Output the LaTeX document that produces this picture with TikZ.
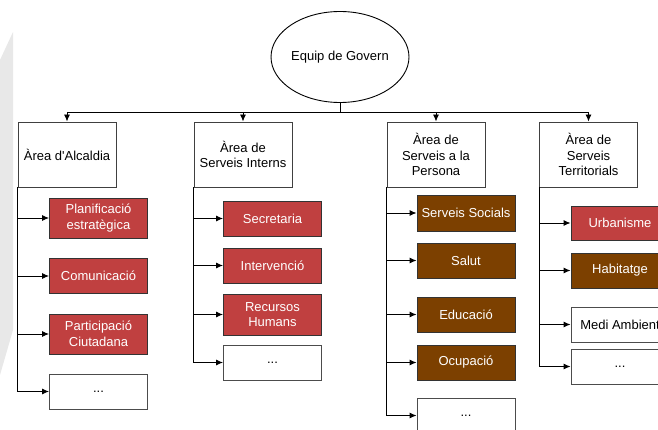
\documentclass[tikz,border=0pt]{standalone}
\usepackage{fontspec}
\setmainfont{Liberation Sans}
\usetikzlibrary{shapes,arrows.meta}
\definecolor{unitred}{RGB}{192,64,64}
\definecolor{unitbrown}{RGB}{124,64,0}
\definecolor{bandgray}{RGB}{232,232,232}
\tikzset{
  area/.style ={draw=black!75, fill=white, align=center, minimum width=98pt, minimum height=65pt, inner sep=2pt},
  redunit/.style ={draw=black!80, fill=unitred, text=white, align=center, minimum width=98pt, minimum height=35pt, inner sep=2pt},
  brownunit/.style ={draw=black!80, fill=unitbrown, text=white, align=center, minimum width=98pt, minimum height=35pt, inner sep=2pt},
  blankunit/.style ={draw=black!70, fill=white, align=center, minimum width=98pt, minimum height=35pt, inner sep=2pt},
  line/.style ={draw, line width=0.9pt, -{Latex[length=7pt,width=6pt]}}
}

\begin{document}
\begin{tikzpicture}[x=1pt,y=-1pt,line width=0.9pt,font=\fontsize{13}{15.5}\selectfont]
	\useasboundingbox (0,0) rectangle (658,430);
	\fill[bandgray] (0,60) -- (13,32) -- (13,330) -- (0,375) -- cycle;

	% govern and areas
	\node[ellipse, draw, minimum width=127pt, minimum height=91pt, inner sep=0pt] (govern) at (340,57) {Equip de Govern};
	\node[area] (alcaldia) at (67,154.5) {Àrea d\textquotesingle Alcaldia};
	\node[area] (interns) at (243,154.5) {Àrea de\\Serveis Interns};
	\node[area] (persona) at (436,154.5) {Àrea de\\Serveis a la\\Persona};
	\node[area] (territori) at (588.5,154.5) {Àrea de\\Serveis\\Territorials};
	\coordinate (bus) at (340,112);
	\draw (govern) -- (bus);
	\draw[line] (bus) -| (alcaldia);
	\draw[line] (bus) -| (interns);
	\draw[line] (bus) -| (persona);
	\draw[line] (bus) -| (territori);

	% alcaldia
	\node[redunit, minimum height=40pt] (planif) at (98.5,218) {Planificació\\estratègica};
	\node[redunit] (comunic) at (98.5,276) {Comunicació};
	\node[redunit, minimum height=40pt] (particip) at (98.5,334) {Participació\\Ciutadana};
	\node[blankunit] (alcaldiaetc) at (98.5,391.5) {...};
	\draw[line] (alcaldia.south west) |- (planif);
	\draw[line] (alcaldia.south west) |- (comunic);
	\draw[line] (alcaldia.south west) |- (particip);
	\draw[line] (alcaldia.south west) |- (alcaldiaetc);

	% serveis interns
	\node[redunit] (secretaria) at (272.5,218.5) {Secretaria};
	\node[redunit] (intervencio) at (272.5,265.5) {Intervenció};
	\node[redunit, minimum height=41pt] (recursos) at (272.5,314.5) {Recursos\\Humans};
	\node[blankunit] (internsetc) at (272.5,362.5) {...};
	\draw[line] (interns.south west) |- (secretaria);
	\draw[line] (interns.south west) |- (intervencio);
	\draw[line] (interns.south west) |- (recursos);
	\draw[line] (interns.south west) |- (internsetc);

	% serveis a la persona
	\node[brownunit, minimum height=36pt] (socials) at (466,213) {Serveis Socials};
	\node[brownunit] (salut) at (466,260.5) {Salut};
	\node[brownunit] (educacio) at (466,314.5) {Educació};
	\node[brownunit] (ocupacio) at (466,362.5) {Ocupació};
	\node[blankunit] (personaetc) at (466,415.5) {...};
	\draw[line] (persona.south west) |- (socials);
	\draw[line] (persona.south west) |- (salut);
	\draw[line] (persona.south west) |- (educacio);
	\draw[line] (persona.south west) |- (ocupacio);
	\draw[line] (persona.south west) |- (personaetc);

	% serveis territorials
	\node[redunit, minimum height=34pt] (urbanisme) at (620,223) {Urbanisme};
	\node[brownunit] (habitatge) at (620,270.5) {Habitatge};
	\node[blankunit] (medi) at (620,324.5) {Medi Ambient};
	\node[blankunit] (territorietc) at (620,366.5) {...};
	\draw[line] (territori.south west) |- (urbanisme);
	\draw[line] (territori.south west) |- (habitatge);
	\draw[line] (territori.south west) |- (medi);
	\draw[line] (territori.south west) |- (territorietc);
\end{tikzpicture}
\end{document}
